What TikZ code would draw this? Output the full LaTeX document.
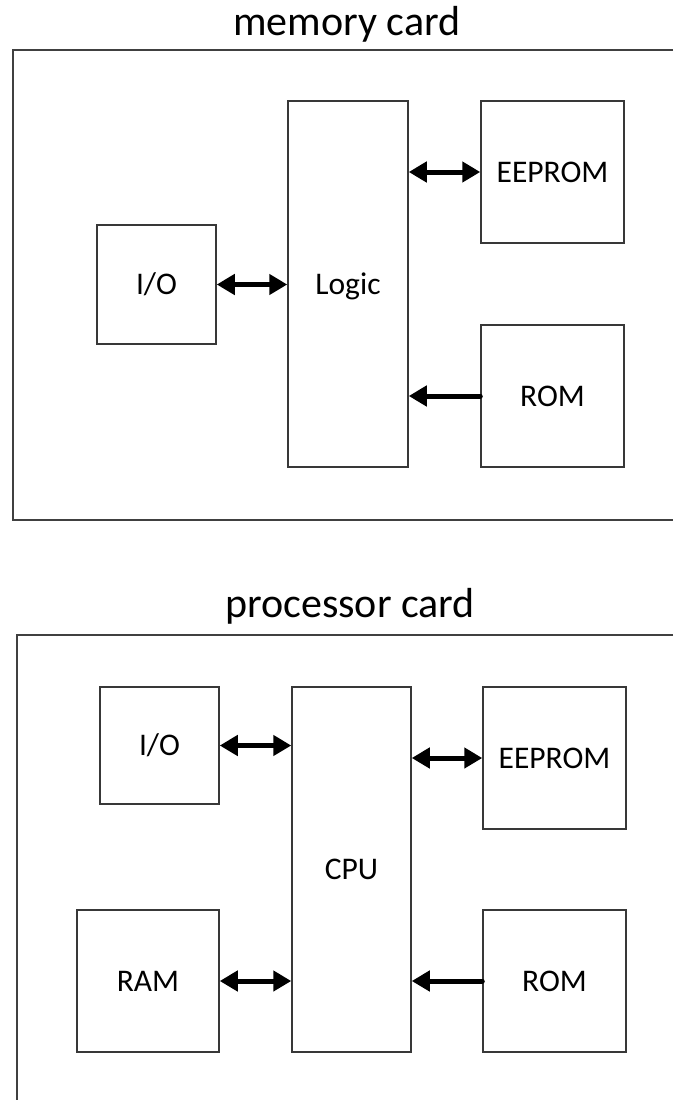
\documentclass[tikz,border=0pt]{standalone}
\usepackage{fontspec}
\setmainfont{Carlito}
\usetikzlibrary{arrows.meta}
\begin{document}
\begin{tikzpicture}[x=1pt,y=-1pt,
  block/.style={draw=black!78, line width=1.5pt, inner sep=0pt,
    font=\fontsize{31.5}{38}\selectfont, text height=20.3pt, text depth=0pt},
  frame/.style={draw=black!75, line width=1.5pt},
  cardtitle/.style={font=\fontsize{42}{50}\selectfont, anchor=base, inner sep=0pt},
  link/.style={line width=5pt, line cap=round, -{Triangle[length=18pt,width=20pt]}},
  dlink/.style={line width=5pt, {Triangle[length=18pt,width=20pt]}-{Triangle[length=18pt,width=20pt]}}]
\useasboundingbox (0,0) rectangle (673,1100);

% ---- memory card ----
\node[cardtitle] (mtitle) at (347,35) {memory card};
\draw[frame] (673,50) -| (13,520) -- (673,520);

\node[block, minimum width=119pt, minimum height=119pt] (mio)   at (156.5,284.5) {I/O};
\node[block, minimum width=120pt, minimum height=366pt] (logic) at (348,284) {Logic};
\node[block, minimum width=143pt, minimum height=142pt] (meep)  at (552.5,172) {EEPROM};
\node[block, minimum width=143pt, minimum height=142pt] (mrom)  at (552.5,396) {ROM};

\draw[dlink] (mio.east) -- (mio.east -| logic.west);
\draw[dlink] (meep.west -| logic.east) -- (meep.west);
\draw[link] (mrom.west) -- (mrom.west -| logic.east);

% ---- processor card ----
\node[cardtitle] (ptitle) at (350,617) {processor card};
\draw[frame] (673,635) -| (17,1100);

\node[block, minimum width=119pt, minimum height=117pt] (pio)  at (159.5,745.5) {I/O};
\node[block, minimum width=142pt, minimum height=142pt] (ram)  at (148,981) {RAM};
\node[block, minimum width=119pt, minimum height=365pt] (cpu)  at (351.5,869.5) {CPU};
\node[block, minimum width=143pt, minimum height=142pt] (peep) at (554.5,758) {EEPROM};
\node[block, minimum width=143pt, minimum height=142pt] (prom) at (554.5,981) {ROM};

\draw[dlink] (pio.east) -- (pio.east -| cpu.west);
\draw[dlink] (ram.east) -- (ram.east -| cpu.west);
\draw[dlink] (peep.west -| cpu.east) -- (peep.west);
\draw[link] (prom.west) -- (prom.west -| cpu.east);
\end{tikzpicture}
\end{document}
